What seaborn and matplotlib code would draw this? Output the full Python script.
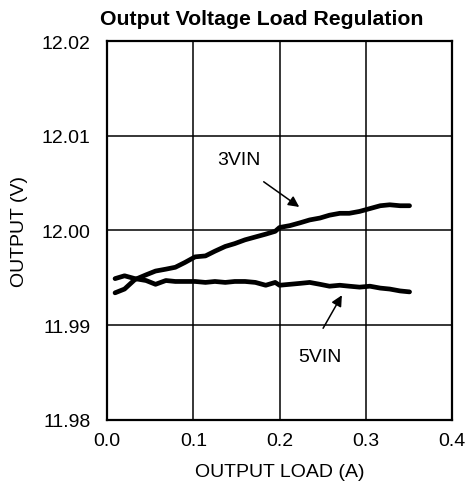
import numpy as np
import pandas as pd
import matplotlib
matplotlib.use("Agg")
import matplotlib.pyplot as plt
import seaborn as sns

# Values
load_3vin = [0.009, 0.020, 0.032, 0.045, 0.056, 0.068, 0.079, 0.090, 0.102, 0.114,
             0.125, 0.137, 0.148, 0.160, 0.172, 0.184, 0.195, 0.200, 0.212, 0.224,
             0.235, 0.247, 0.258, 0.270, 0.281, 0.293, 0.305, 0.317, 0.328, 0.340, 0.351]
vout_3vin = [11.9934, 11.9938, 11.9948, 11.9953, 11.9957, 11.9959, 11.9961, 11.9966, 11.9972, 11.9973,
             11.9978, 11.9983, 11.9986, 11.9990, 11.9993, 11.9996, 11.9999, 12.0003, 12.0005, 12.0008,
             12.0011, 12.0013, 12.0016, 12.0018, 12.0018, 12.0020, 12.0023, 12.0026, 12.0027, 12.0026, 12.0026]

load_5vin = [0.009, 0.020, 0.032, 0.045, 0.056, 0.068, 0.079, 0.090, 0.102, 0.114,
             0.125, 0.137, 0.148, 0.160, 0.172, 0.184, 0.195, 0.200, 0.212, 0.224,
             0.235, 0.247, 0.258, 0.270, 0.281, 0.293, 0.305, 0.317, 0.328, 0.340, 0.351]
vout_5vin = [11.9949, 11.9952, 11.9949, 11.9947, 11.9943, 11.9947, 11.9946, 11.9946, 11.9946, 11.9945,
             11.9946, 11.9945, 11.9946, 11.9946, 11.9945, 11.9942, 11.9945, 11.9942, 11.9943, 11.9944,
             11.9945, 11.9943, 11.9941, 11.9942, 11.9941, 11.9940, 11.9941, 11.9939, 11.9938, 11.9936, 11.9935]

x_ticks = [0.0, 0.1, 0.2, 0.3, 0.4]
y_ticks = [11.98, 11.99, 12.00, 12.01, 12.02]
y_tick_labels = ["11.98", "11.99", "12.00", "12.01", "12.02"]

df = pd.concat([
    pd.DataFrame({"load": load_3vin, "vout": vout_3vin, "vin": "3VIN"}),
    pd.DataFrame({"load": load_5vin, "vout": vout_5vin, "vin": "5VIN"}),
])

sns.set_style("white")
plt.rcParams["font.family"] = ["Liberation Sans", "DejaVu Sans"]
plt.rcParams["text.color"] = "black"
plt.rcParams["axes.labelcolor"] = "black"

fig = plt.figure(figsize=(4.69, 4.89), dpi=100)
ax = fig.add_axes([0.2288, 0.1397, 0.7344, 0.7744])

sns.lineplot(data=df, x="load", y="vout", units="vin", estimator=None,
             color="black", linewidth=3.4, ax=ax, legend=False)

ax.set_xlim(0.0, 0.4)
ax.set_ylim(11.98, 12.02)
ax.set_xticks(x_ticks)
ax.set_xticklabels([f"{t:.1f}" for t in x_ticks])
ax.set_yticks(y_ticks)
ax.set_yticklabels(y_tick_labels)
ax.grid(True, color="black", linewidth=1.1)
for s in ax.spines.values():
    s.set_color("black")
    s.set_linewidth(1.6)
ax.tick_params(axis="both", length=0, labelsize=14, colors="black")
ax.tick_params(axis="x", pad=9)
ax.tick_params(axis="y", pad=12)

ax.set_xlabel("OUTPUT LOAD (A)", fontsize=14, labelpad=10)
ax.set_ylabel("OUTPUT (V)", fontsize=14, labelpad=10)
ax.set_title("Output Voltage Load Regulation", fontsize=15.3, fontweight="bold",
             x=0.448, pad=12)

arrow = dict(arrowstyle="-|>", color="black", lw=1.1, mutation_scale=16)
ax.annotate("", xy=(0.2255, 12.0023), xytext=(0.179, 12.0053), arrowprops=arrow)
ax.text(0.153, 12.0075, "3VIN", fontsize=14, ha="center", va="center")
ax.annotate("", xy=(0.274, 11.9934), xytext=(0.249, 11.9894), arrowprops=arrow)
ax.text(0.247, 11.9867, "5VIN", fontsize=14, ha="center", va="center")

fig.savefig("out.png", dpi=100)
